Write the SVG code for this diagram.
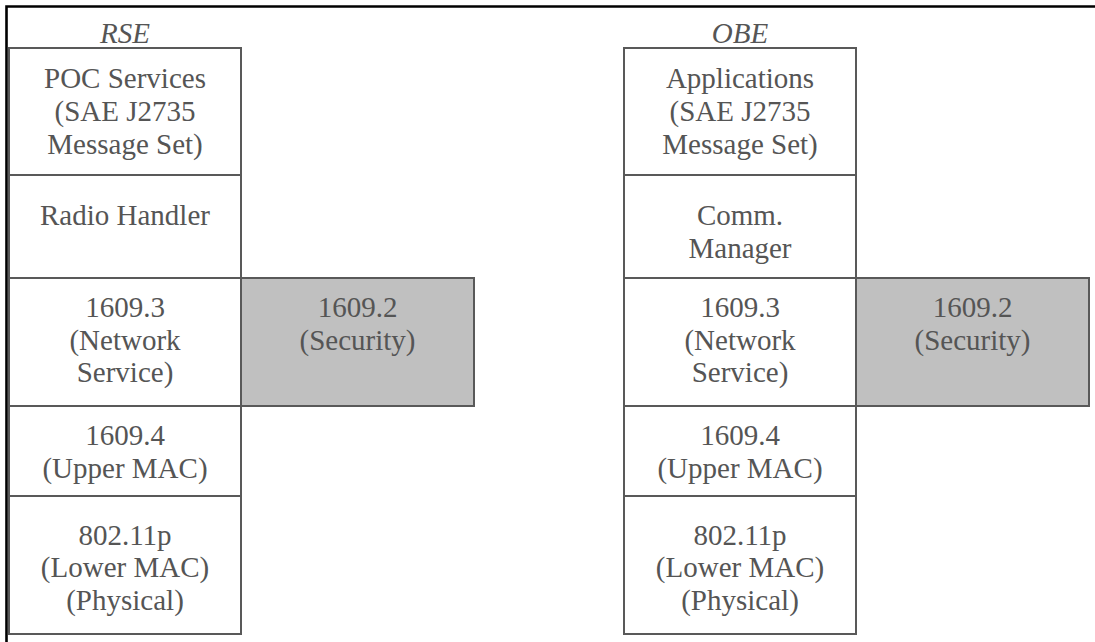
<svg xmlns="http://www.w3.org/2000/svg" width="1095" height="642" viewBox="0 0 1095 642">
<style>
.box{fill:#ffffff;stroke:#595959;stroke-width:2}
.sec{fill:#c0c0c0;stroke:#595959;stroke-width:2}
.t{font-family:'Liberation Serif','Tinos','Times New Roman','DejaVu Serif',serif;font-size:29px;fill:#555555;text-anchor:middle}
.title{font-style:italic}
</style>
<rect width="1095" height="642" fill="#ffffff"/>
<g id="frame">
<path d="M6.5,642 V6.5 H1095" fill="none" stroke="#000000" stroke-width="2.6"/>
</g>
<g id="rse" class="t">
<text class="t title" x="125" y="43">RSE</text>
<g id="rse-poc"><rect class="box" x="9" y="48" width="232" height="127"/>
<text class="t" x="125" y="87.5">POC Services</text><text class="t" x="125" y="120.5">(SAE J2735</text><text class="t" x="125" y="153.5">Message Set)</text></g>
<g id="rse-radio"><rect class="box" x="9" y="175" width="232" height="103"/>
<text class="t" x="125" y="225">Radio Handler</text></g>
<g id="rse-1609-3"><rect class="box" x="9" y="278" width="232" height="128"/>
<text class="t" x="125" y="317">1609.3</text><text class="t" x="125" y="350">(Network</text><text class="t" x="125" y="382">Service)</text></g>
<g id="rse-1609-2"><rect class="sec" x="241" y="278" width="233" height="128"/>
<text class="t" x="357.5" y="317">1609.2</text><text class="t" x="357.5" y="350">(Security)</text></g>
<g id="rse-1609-4"><rect class="box" x="9" y="406" width="232" height="90"/>
<text class="t" x="125" y="445">1609.4</text><text class="t" x="125" y="478">(Upper MAC)</text></g>
<g id="rse-802"><rect class="box" x="9" y="496" width="232" height="138"/>
<text class="t" x="125" y="545">802.11p</text><text class="t" x="125" y="577">(Lower MAC)</text><text class="t" x="125" y="610">(Physical)</text></g>
</g>
<g id="obe" class="t">
<text class="t title" x="740" y="43">OBE</text>
<g id="obe-app"><rect class="box" x="624" y="48" width="232" height="127"/>
<text class="t" x="740" y="87.5">Applications</text><text class="t" x="740" y="120.5">(SAE J2735</text><text class="t" x="740" y="153.5">Message Set)</text></g>
<g id="obe-comm"><rect class="box" x="624" y="175" width="232" height="103"/>
<text class="t" x="740" y="225">Comm.</text><text class="t" x="740" y="258">Manager</text></g>
<g id="obe-1609-3"><rect class="box" x="624" y="278" width="232" height="128"/>
<text class="t" x="740" y="317">1609.3</text><text class="t" x="740" y="350">(Network</text><text class="t" x="740" y="382">Service)</text></g>
<g id="obe-1609-2"><rect class="sec" x="856" y="278" width="233" height="128"/>
<text class="t" x="972.5" y="317">1609.2</text><text class="t" x="972.5" y="350">(Security)</text></g>
<g id="obe-1609-4"><rect class="box" x="624" y="406" width="232" height="90"/>
<text class="t" x="740" y="445">1609.4</text><text class="t" x="740" y="478">(Upper MAC)</text></g>
<g id="obe-802"><rect class="box" x="624" y="496" width="232" height="138"/>
<text class="t" x="740" y="545">802.11p</text><text class="t" x="740" y="577">(Lower MAC)</text><text class="t" x="740" y="610">(Physical)</text></g>
</g>
<g id="connectors"></g>
</svg>
